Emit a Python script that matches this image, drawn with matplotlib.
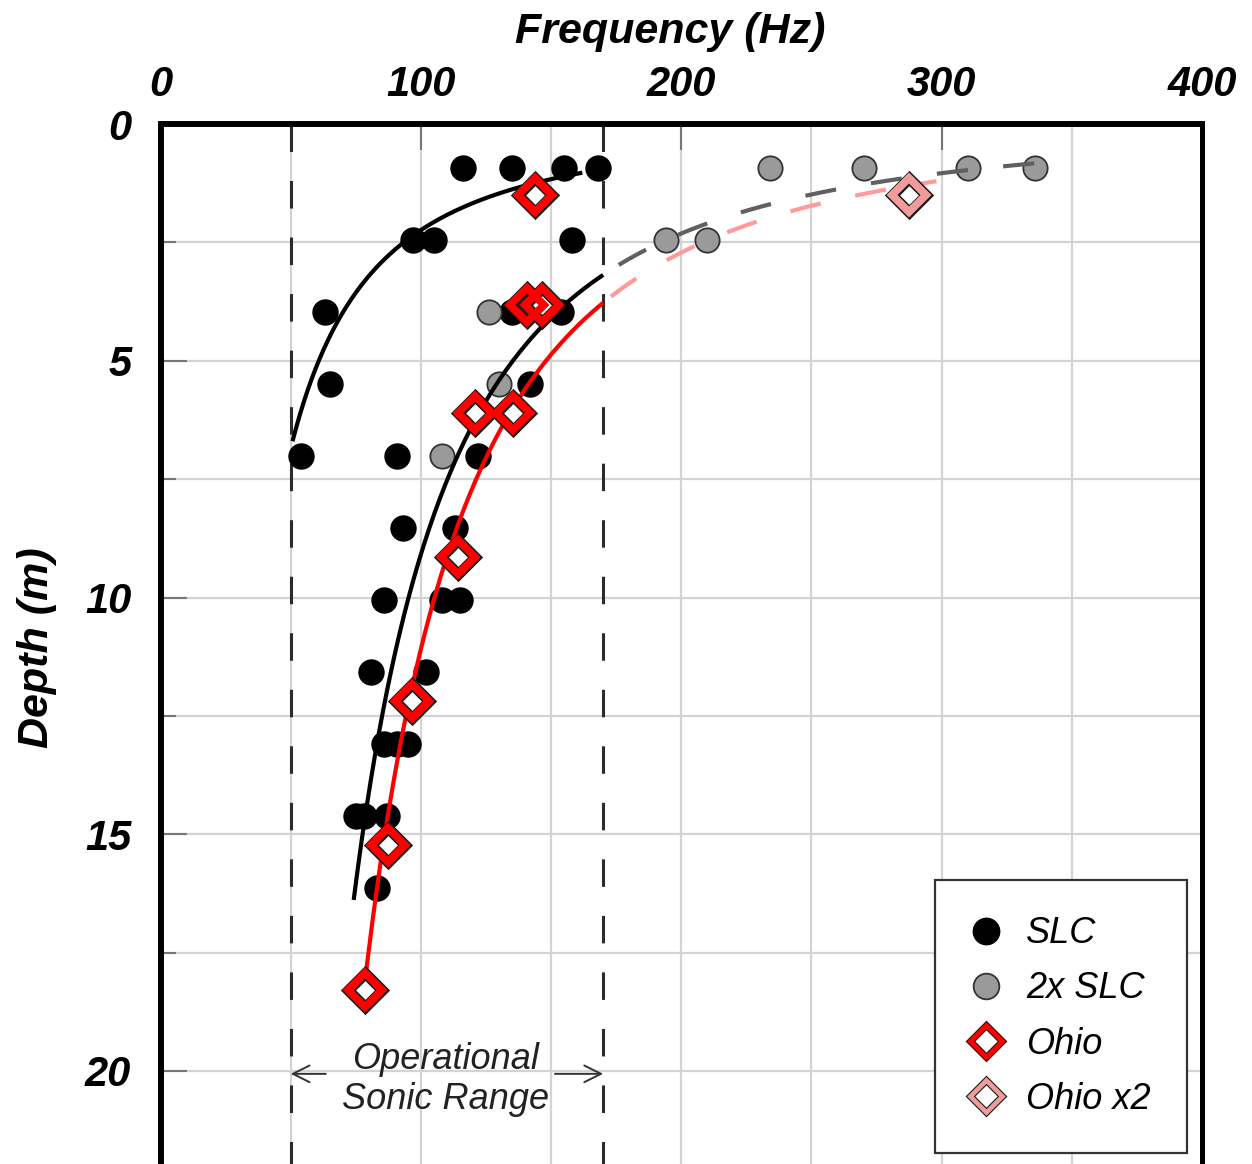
import numpy as np
import matplotlib
matplotlib.use("Agg")
import matplotlib.pyplot as plt
from matplotlib.lines import Line2D
from matplotlib.markers import MarkerStyle
from matplotlib.legend_handler import HandlerTuple
from matplotlib.ticker import MultipleLocator

plt.rcParams['font.family'] = ['Liberation Sans', 'DejaVu Sans']

# ---- measured resonance frequencies (Hz) against depth (m) ----
slc_freq = [116, 135, 155, 168,
            97, 105, 158,
            63, 135, 154,
            65, 142,
            54, 91, 122,
            93, 113,
            86, 108, 115,
            81, 102,
            86, 91, 95,
            75, 78, 87,
            83]
slc_depth = [0.93, 0.93, 0.93, 0.93,
             2.45, 2.45, 2.45,
             3.97, 3.97, 3.97,
             5.49, 5.49,
             7.01, 7.01, 7.01,
             8.53, 8.53,
             10.05, 10.05, 10.05,
             11.57, 11.57,
             13.09, 13.09, 13.09,
             14.61, 14.61, 14.61,
             16.13]

slc2x_freq = [234, 270, 310, 336, 194, 210, 126, 130, 108]
slc2x_depth = [0.93, 0.93, 0.93, 0.93, 2.45, 2.45, 3.97, 5.49, 7.01]

ohio_freq = [143.8, 140.6, 146.4, 120.8, 135.5, 114.4, 96.5, 87.4, 78.5]
ohio_depth = [1.50, 3.82, 3.82, 6.11, 6.11, 9.15, 12.18, 15.23, 18.29]

ohio2x_freq = [287.6]
ohio2x_depth = [1.50]

# power-law trends: depth = d100 * (f / 100) ** k, drawn over [f_min, f_max]
trend_slc_fund = [2.24, -1.613, 50.7, 162.0]
trend_slc_upper = [9.09, -1.975, 74.2, 338.0]
trend_ohio = [11.09, -2.03, 78.2, 298.0]

sonic_range = [50, 170]
label_depth = 20.06

legend_labels = ['SLC', '2x SLC', 'Ohio', 'Ohio x2']


def trend(params, f_lo=None, f_hi=None):
    d100, k, f_min, f_max = params
    lo = f_min if f_lo is None else max(f_lo, f_min)
    hi = f_max if f_hi is None else min(f_hi, f_max)
    f = np.linspace(lo, hi, 300)
    return f, d100 * (f / 100.0) ** k


fig = plt.figure(figsize=(12.52, 11.64), dpi=100)
ax = fig.add_axes([160.5 / 1252, 0.0, (1202 - 160.5) / 1252, (1164 - 124) / 1164])

ax.set_xlim(0, 400)
ax.set_ylim((1164 - 124) / 47.35, 0)

# grid
ax.xaxis.set_major_locator(MultipleLocator(100))
ax.xaxis.set_minor_locator(MultipleLocator(50))
ax.yaxis.set_major_locator(MultipleLocator(5))
ax.yaxis.set_minor_locator(MultipleLocator(2.5))
ax.grid(which='both', color='#d3d3d3', lw=1.6, zorder=0)
ax.set_axisbelow(True)

# operational sonic range limits
for f in sonic_range:
    ax.plot([f, f], [0, 23], color='#2b2b2b', lw=2.2,
            linestyle=(0, (9.0, 9.5)), zorder=2, clip_on=True)

dash = (0, (7.5, 8.5))
lw_curve = 3.0

# measured points
ax.plot(slc_freq, slc_depth, 'o', ms=18, mfc='black', mec='black', zorder=3)
ax.plot(slc2x_freq, slc2x_depth, 'o', ms=17.5, mfc='#9a9a9a', mec='#333333',
        mew=1.3, zorder=3)

# trend curves
f, d = trend(trend_slc_fund)
ax.plot(f, d, color='black', lw=lw_curve, zorder=4, solid_capstyle='butt')
f, d = trend(trend_slc_upper, f_hi=sonic_range[1])
ax.plot(f, d, color='black', lw=lw_curve, zorder=4, solid_capstyle='butt')
f, d = trend(trend_slc_upper, f_lo=176)
ax.plot(f, d, color='#606060', lw=lw_curve, linestyle=dash, zorder=4)
f, d = trend(trend_ohio, f_hi=sonic_range[1])
ax.plot(f, d, color='#ff0000', lw=lw_curve, zorder=4, solid_capstyle='butt')
f, d = trend(trend_ohio, f_lo=173)
ax.plot(f, d, color='#ff9a9a', lw=lw_curve, linestyle=dash, zorder=4)

diamond_marker = MarkerStyle('D', joinstyle='miter')


def diamond(x, y, color, zorder=5):
    ax.plot(x, y, ls='none', marker=diamond_marker, ms=17.6, mfc='white',
            mec='#1a1a1a', mew=7.8, zorder=zorder)
    ax.plot(x, y, ls='none', marker=diamond_marker, ms=17.6, mfc='none',
            mec=color, mew=5.6, zorder=zorder + 0.1)


diamond(ohio_freq, ohio_depth, '#ff0000')
diamond(ohio2x_freq, ohio2x_depth, '#f29b9b')

# sonic range annotation
mid = (sonic_range[0] + sonic_range[1]) / 2 - 0.7
ax.text(mid, label_depth + 0.12, 'Operational\nSonic Range', ha='center',
        va='center', fontsize=26, fontstyle='italic', color='#222222',
        linespacing=1.17, zorder=6)
arrow = dict(arrowstyle='->', color='#333333', lw=1.4, mutation_scale=30,
             shrinkA=0, shrinkB=0)
ax.annotate('', xy=(sonic_range[0], label_depth), xytext=(63.5, label_depth),
            arrowprops=arrow)
ax.annotate('', xy=(sonic_range[1], label_depth), xytext=(151.5, label_depth),
            arrowprops=arrow)

# axes styling
ax.xaxis.tick_top()
ax.xaxis.set_label_position('top')
ax.tick_params(axis='x', which='major', direction='in', length=19, width=1.5,
               color='#777777', pad=14, labelsize=30)
ax.tick_params(axis='x', which='minor', length=0)
ax.tick_params(axis='y', which='major', direction='in', length=19, width=1.5,
               color='#777777', pad=21, labelsize=30)
ax.tick_params(axis='y', which='minor', direction='in', length=11, width=1.5,
               color='#777777')
for lab in ax.get_xticklabels() + ax.get_yticklabels():
    lab.set_fontweight('bold')
    lab.set_fontstyle('italic')

ax.spines['bottom'].set_visible(False)
ax.spines['top'].set_linewidth(4.3)
ax.spines['left'].set_linewidth(4.3)
ax.spines['right'].set_linewidth(3.6)

ax.set_xlabel('Frequency (Hz)', fontsize=31, fontweight='bold',
              fontstyle='italic')
ax.xaxis.label.set_va('center')
ax.xaxis.set_label_coords((670 - 160.5) / 1041.5, (1164 - 32) / 1040)
ax.set_ylabel('Depth (m)', fontsize=31, fontweight='bold', fontstyle='italic')
ax.yaxis.label.set_va('center')
ax.yaxis.set_label_coords((37 - 160.5) / 1041.5, (1164 - 648) / 1040)

# legend
h_slc = Line2D([], [], ls='none', marker='o', ms=19, mfc='black', mec='black')
h_2x = Line2D([], [], ls='none', marker='o', ms=18.5, mfc='#9a9a9a',
              mec='#333333', mew=1.3)


def diamond_handle(color):
    return (Line2D([], [], ls='none', marker=diamond_marker, ms=15.8,
                   mfc='white', mec='#1a1a1a', mew=5.0),
            Line2D([], [], ls='none', marker=diamond_marker, ms=15.8,
                   mfc='none', mec=color, mew=3.4))


leg = ax.legend([h_slc, h_2x, diamond_handle('#ff0000'),
                 diamond_handle('#f29b9b')], legend_labels,
                handler_map={tuple: HandlerTuple(ndivide=1, pad=0)},
                loc='lower right', bbox_to_anchor=((1187 - 160.5) / 1041.5,
                                                   (1164 - 1153) / 1040),
                borderaxespad=0, prop={'size': 26, 'style': 'italic'},
                frameon=True, fancybox=False, framealpha=1,
                edgecolor='#333333', handlelength=0.85, handletextpad=0.68,
                labelspacing=0.56, borderpad=1.0)
leg.get_frame().set_linewidth(1.6)
leg.set_zorder(7)

fig.savefig('out.png', dpi=100)
